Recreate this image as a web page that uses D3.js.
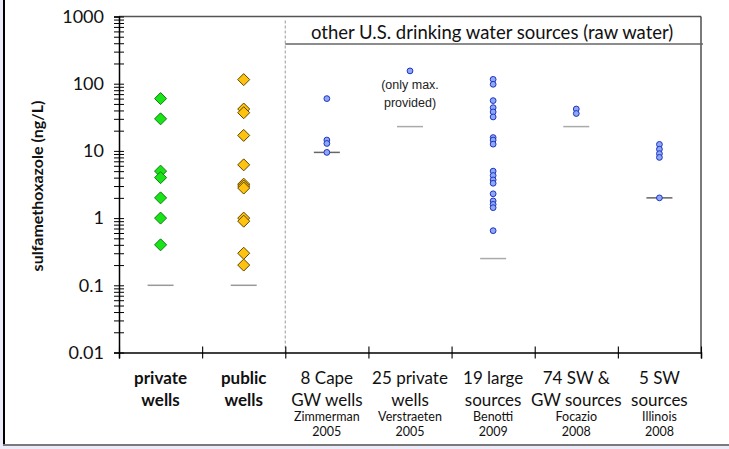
<!DOCTYPE html>
<html lang="en">
<head>
<meta charset="utf-8">
<title>Sulfamethoxazole in drinking water sources</title>
<script src="https://d3js.org/d3.v7.min.js"></script>
<style>
  body { margin: 0; background: #ebebfa; }
  svg { display: block; }
  .tick text { font-family: Lato, sans-serif; }
</style>
</head>
<body>
<div id="chart"></div>
<script>
  // categories and labels
  var groupTop = ["private", "public", "8 Cape", "25 private", "19 large", "74 SW &", "5 SW"],
      groupBottom = ["wells", "wells", "GW wells", "wells", "sources", "GW sources", "sources"],
      studyAuthor = ["", "", "Zimmerman", "Verstraeten", "Benotti", "Focazio", "Illinois"],
      studyYear = ["", "", "2005", "2005", "2009", "2008", "2008"];

  // measured values (ng/L)
  var privateWells = [60, 30, 5, 4, 2, 1, 0.4],
      publicWells = [115, 42, 37, 17, 6.2, 3.2, 3.0, 2.8, 1.0, 0.9, 0.3, 0.2],
      zimmerman = [60, 14.5, 12.9, 9.5],
      verstraeten = [155],
      benotti = [116, 98, 56, 44, 38, 32, 15.8, 14.5, 12.6, 5.0, 4.3, 3.7, 3.3, 2.3, 1.8, 1.6, 1.43, 0.65],
      focazio = [42, 36],
      illinois = [12.5, 10.6, 9.1, 8.0, 2.0];

  // reporting limits per group
  var reportingLimits = [0.1, 0.1, 9.5, 23, 0.25, 23, 2.0];

  var yMajor = [0.01, 0.1, 1, 10, 100, 1000];

  var W = 729, H = 449;
  var plotL = 119, plotR = 701, plotT = 16.5, plotB = 352.5;

  var svg = d3.select("#chart").append("svg")
      .attr("width", W).attr("height", H);

  // white panel with frame
  svg.append("rect").attr("x", 4).attr("y", 0).attr("width", W - 4).attr("height", 444).style("fill", "#fff");
  svg.append("line").attr("x1", 4).attr("x2", 4).attr("y1", 0).attr("y2", 445)
      .style("stroke", "#000").style("stroke-width", 2);
  svg.append("line").attr("x1", 3).attr("x2", W).attr("y1", 445).attr("y2", 445)
      .style("stroke", "#7a7a7a").style("stroke-width", 2);

  var x = d3.scaleBand().domain(d3.range(groupTop.length)).range([plotL, plotR]);
  var xEdge = d3.scaleLinear().domain([0, groupTop.length]).range([plotL, plotR]);
  var y = d3.scaleLog().domain([0.01, 1000]).range([plotB, plotT]);

  // plot frame top and right
  svg.append("line").attr("x1", plotL).attr("x2", plotR).attr("y1", y(1000)).attr("y2", y(1000))
      .style("stroke", "#555").style("stroke-width", 1.3);
  svg.append("line").attr("x1", plotR).attr("x2", plotR).attr("y1", y(1000)).attr("y2", y(0.01))
      .style("stroke", "#333").style("stroke-width", 1.3);

  // separator between own data and other studies
  svg.append("line").attr("x1", xEdge(2)).attr("x2", xEdge(2)).attr("y1", y(1000) + 4).attr("y2", y(0.01))
      .style("stroke", "#aaa").style("stroke-width", 1.2).style("stroke-dasharray", "3,2");

  // header for other studies
  svg.append("line").attr("x1", xEdge(2)).attr("x2", plotR + 2).attr("y1", 44).attr("y2", 44)
      .style("stroke", "#666").style("stroke-width", 1.3);
  svg.append("text")
      .attr("x", (xEdge(2) + plotR) / 2 - 1).attr("y", 39)
      .attr("text-anchor", "middle")
      .style("font-family", "Lato, sans-serif").style("font-size", "18.5px").style("fill", "#111")
      .text("other U.S. drinking water sources (raw water)");

  // y axis with minor ticks
  var yTicks = [];
  for (var e = -2; e <= 3; e++) {
    for (var m = 1; m <= 9; m++) {
      var v = m * Math.pow(10, e);
      if (v <= 1000) yTicks.push(+v.toPrecision(3));
    }
  }
  var yAxis = svg.append("g")
      .attr("transform", "translate(" + plotL + ",0)")
      .call(d3.axisLeft(y).tickValues(yTicks).tickSize(5).tickPadding(10)
        .tickFormat(function(d) { return yMajor.indexOf(d) >= 0 ? String(d) : ""; }));
  yAxis.select(".domain").style("stroke", "#000").style("stroke-width", 1.5);
  yAxis.selectAll(".tick line").attr("x1", 5).style("stroke", "#000").style("stroke-width", 1);
  yAxis.selectAll(".tick text").style("font-size", "18px").style("fill", "#111");

  // x axis with ticks at group edges
  var xAxis = svg.append("g")
      .attr("transform", "translate(0," + plotB + ")")
      .call(d3.axisBottom(xEdge).tickValues(d3.range(groupTop.length + 1)).tickSize(6).tickFormat(""));
  xAxis.select(".domain").style("stroke", "#000").style("stroke-width", 1.5);
  xAxis.selectAll(".tick line").attr("y1", -6).style("stroke", "#000").style("stroke-width", 1.1);

  // category labels
  var labels = svg.append("g");
  groupTop.forEach(function(t, i) {
    var cx = x(i) + x.bandwidth() / 2,
        bold = i < 2;
    labels.append("text").attr("x", cx).attr("y", 384).attr("text-anchor", "middle")
        .style("font-family", "Lato, sans-serif").style("font-size", "17px")
        .style("font-weight", bold ? "bold" : "normal").style("fill", "#111")
        .text(t);
    labels.append("text").attr("x", cx).attr("y", 406).attr("text-anchor", "middle")
        .style("font-family", "Lato, sans-serif").style("font-size", "17px")
        .style("font-weight", bold ? "bold" : "normal").style("fill", "#111")
        .text(groupBottom[i]);
    if (studyAuthor[i]) {
      labels.append("text").attr("x", cx).attr("y", 421).attr("text-anchor", "middle")
          .style("font-family", "Lato, sans-serif").style("font-size", "12.5px").style("fill", "#111")
          .text(studyAuthor[i]);
      labels.append("text").attr("x", cx).attr("y", 436).attr("text-anchor", "middle")
          .style("font-family", "Lato, sans-serif").style("font-size", "12.5px").style("fill", "#111")
          .text(studyYear[i]);
    }
  });

  // y title
  svg.append("text")
      .attr("transform", "translate(43," + 186 + ") rotate(-90)")
      .attr("text-anchor", "middle")
      .style("font-family", "Lato, sans-serif").style("font-size", "16px").style("font-weight", "bold")
      .style("fill", "#111")
      .text("sulfamethoxazole (ng/L)");

  // reporting limit lines
  var limitColor = ["#999", "#999", "#666", "#aaa", "#aaa", "#aaa", "#666"];
  svg.append("g").selectAll("line")
      .data(reportingLimits)
      .enter().append("line")
      .attr("x1", function(d, i) { return x(i) + x.bandwidth() / 2 - 13; })
      .attr("x2", function(d, i) { return x(i) + x.bandwidth() / 2 + 13; })
      .attr("y1", function(d) { return y(d); })
      .attr("y2", function(d) { return y(d); })
      .style("stroke", function(d, i) { return limitColor[i]; })
      .style("stroke-width", 1.5);

  // note for Verstraeten
  svg.append("text").attr("x", x(3) + x.bandwidth() / 2).attr("y", 89).attr("text-anchor", "middle")
      .style("font-family", "'Liberation Sans', Arial, sans-serif").style("font-size", "12.5px").style("fill", "#222")
      .text("(only max.");
  svg.append("text").attr("x", x(3) + x.bandwidth() / 2).attr("y", 107).attr("text-anchor", "middle")
      .style("font-family", "'Liberation Sans', Arial, sans-serif").style("font-size", "12.5px").style("fill", "#222")
      .text("provided)");

  // diamonds for this study
  function diamonds(vals, i, fill, stroke) {
    var cx = x(i) + x.bandwidth() / 2;
    svg.append("g").selectAll("path")
        .data(vals)
        .enter().append("path")
        .attr("d", function(d) {
          var cy = y(d), r = 6;
          return "M" + cx + "," + (cy - r) + "L" + (cx + r) + "," + cy + "L" + cx + "," + (cy + r) + "L" + (cx - r) + "," + cy + "Z";
        })
        .style("fill", fill).style("stroke", stroke).style("stroke-width", 1);
  }
  diamonds(privateWells, 0, "#18e418", "#127a12");
  diamonds(publicWells, 1, "#ffc20e", "#5e4600");

  // circles for other studies
  var others = [zimmerman, verstraeten, benotti, focazio, illinois];
  others.forEach(function(vals, k) {
    var cx = x(k + 2) + x.bandwidth() / 2;
    svg.append("g").selectAll("circle")
        .data(vals)
        .enter().append("circle")
        .attr("cx", cx)
        .attr("cy", function(d) { return y(d); })
        .attr("r", 2.9)
        .style("fill", "#8ea9f2").style("stroke", "#1f33c4").style("stroke-width", 1);
  });
</script>
</body>
</html>
